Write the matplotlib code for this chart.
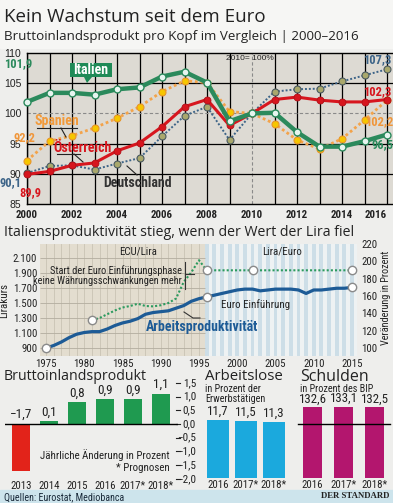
import matplotlib
matplotlib.use("Agg")
import matplotlib.pyplot as plt
from matplotlib import font_manager as fm
from matplotlib.patches import Polygon, Rectangle
from matplotlib.lines import Line2D
import numpy as np

W, H = 393, 503
plt.rcParams['font.family'] = ['Liberation Sans', 'DejaVu Sans']

# pick a condensed font if one is installed
_fl = fm.fontManager.ttflist
_names = {f.name for f in _fl}
NARROW_FAM, NARROW_STRETCH = None, 'normal'
for cand in ['Liberation Sans Narrow', 'Roboto Condensed', 'Noto Sans Condensed',
             'Noto Sans SemiCondensed', 'Open Sans Condensed', 'DejaVu Sans Condensed',
             'Arial Narrow']:
    if cand in _names:
        NARROW_FAM = cand
        break
if NARROW_FAM is None:
    def _is_cond(f):
        s = f.stretch
        if isinstance(s, (int, float)):
            return s < 500
        return 'condensed' in str(s)
    for fam in ['Noto Sans', 'DejaVu Sans', 'Roboto', 'Open Sans']:
        if any(f.name == fam and _is_cond(f) for f in _fl):
            NARROW_FAM, NARROW_STRETCH = fam, 'condensed'
            break
if NARROW_FAM is None:
    NARROW_FAM = 'Liberation Sans'
NK = dict(family=[NARROW_FAM, 'DejaVu Sans'], fontstretch=NARROW_STRETCH)
SMALLER = 0 if NARROW_FAM != 'Liberation Sans' else -0.8

# ---------------- data ----------------
years = list(range(2000, 2017))
italien = [101.9, 103.4, 103.4, 103.1, 104.0, 104.3, 106.1, 106.9, 105.1, 98.7,
           100.0, 100.1, 96.9, 94.5, 94.5, 95.4, 96.5]
spanien = [92.2, 95.4, 96.3, 97.6, 99.2, 101.1, 103.6, 105.4, 105.1, 100.3,
           100.0, 98.3, 95.6, 94.1, 95.8, 98.9, 102.2]
oesterreich = [89.9, 90.4, 91.4, 91.8, 93.8, 95.1, 97.8, 101.1, 102.3, 98.0,
               100.0, 102.3, 102.7, 102.2, 101.9, 101.9, 102.3]
deutschland = [90.1, 91.3, 91.4, 90.7, 91.7, 92.6, 96.2, 99.6, 101.1, 95.6,
               100.0, 103.6, 104.0, 104.1, 105.3, 106.3, 107.3]

lira_years = [1981, 1982, 1983, 1984, 1985, 1986, 1987, 1988, 1989, 1990, 1991,
              1992, 1993, 1994, 1995, 1996, 2002, 2015]
lira_vals = [1270, 1300, 1350, 1400, 1440, 1460, 1490, 1460, 1455, 1470, 1500,
             1560, 1780, 1910, 2070, 1936, 1936, 1936]
lira_marker_years = [1981, 1996, 2002, 2015]

prod_years = list(range(1975, 2016))
prod_vals = [100, 103, 107, 112, 116, 118, 119, 119, 122, 126, 129, 131, 134, 139,
             141, 142, 143, 146, 149, 154, 157, 159, 161, 163, 165, 167, 168, 168,
             166, 167, 168, 168, 168, 167, 163, 167, 167, 168, 169, 169, 170]
prod_marker_years = [1975, 1996, 2015]

bip_labels = ['2013', '2014', '2015', '2016', '2017*', '2018*']
bip_vals = [-1.7, 0.1, 0.8, 0.9, 0.9, 1.1]

al_labels = ['2016', '2017*', '2018*']
al_vals = [11.7, 11.5, 11.3]

sch_labels = ['2016', '2017*', '2018*']
sch_vals = [132.6, 133.1, 132.5]

# ---------------- helpers ----------------
fig = plt.figure(figsize=(W / 100, H / 100), dpi=100)
fig.patch.set_facecolor('#eeeeec')


def ax_px(x0, y0, x1, y1):
    return fig.add_axes([x0 / W, 1 - y1 / H, (x1 - x0) / W, (y1 - y0) / H])


def ftext(x, y, s, **kw):
    kw.setdefault('va', 'center')
    return fig.text(x / W, 1 - y / H, s, **kw)


def fline(xs, ys, **kw):
    fig.add_artist(Line2D([x / W for x in xs], [1 - y / H for y in ys], **kw))


def de(v, dec=1):
    s = f"{abs(v):.{dec}f}".replace('.', ',')
    return ('−' if v < 0 else '') + s


def fs(x):
    return x + SMALLER


LIGHT = ['Open Sans', 'DejaVu Sans']

# header
fig.add_artist(Rectangle((0, 1 - 48 / H), 1, 48 / H, transform=fig.transFigure,
                         color='#f6f6f4', zorder=0))
ftext(4, 17, 'Kein Wachstum seit dem Euro', fontsize=13.5, color='#222222', family=LIGHT)
ftext(4, 37, 'Bruttoinlandsprodukt pro Kopf im Vergleich | 2000–2016', fontsize=9.6,
      color='#222222', family=LIGHT)

# ---------------- top chart ----------------
ax = ax_px(27, 53, 393, 204)
ax.set_facecolor('#dddad3')
ax.set_xlim(2000, 2000 + (393 - 27) / 22.5)
ax.set_ylim(85, 110)
for y in years:
    if y == 2010:
        ax.axvline(y, color='#8a8a8a', lw=0.8, ls=(0, (3, 2)), zorder=1)
    else:
        ax.axvline(y, color='black', lw=0.9, zorder=1)
for yv in [90, 95, 105]:
    ax.axhline(yv, color='black', lw=0.9, zorder=1)
ax.axhline(100, color='#8a8a8a', lw=0.8, ls=(0, (3, 2)), zorder=1)
for s in ['top', 'left', 'bottom']:
    ax.spines[s].set_color('black')
    ax.spines[s].set_linewidth(1)
ax.spines['right'].set_visible(False)
ax.set_yticks([85, 90, 95, 100, 105, 110])
ax.set_yticklabels(['85', '90', '95', '100', '105', '110'], fontsize=7.5, color='#222')
ax.set_xticks(list(range(2000, 2017, 2)))
ax.set_xticklabels([str(y) for y in range(2000, 2017, 2)], fontsize=fs(7.8),
                   fontweight='bold', color='#222', **NK)
ax.get_xticklabels()[-1].set_ha('right')
ax.get_xticklabels()[-1].set_x(2016.2)
ax.tick_params(length=0, pad=4)

ax.plot(years, deutschland, color='#3d6488', lw=1.4, ls=(0, (1, 1)), marker='o', ms=5,
        mfc='#a9a86c', mec='#4a5a60', mew=0.8, zorder=3, clip_on=False)
ax.plot(years, spanien, color='#f3a34a', lw=2.0, ls=(0, (1, 1)), marker='o', ms=5,
        mfc='#f6c600', mec='#e8952a', mew=0.8, zorder=4, clip_on=False)
ax.plot(years, oesterreich, color='#d7161e', lw=2.2, marker='o', ms=5,
        mfc='#d7161e', mec='#b01018', mew=0.6, zorder=5, clip_on=False)
ax.plot(years, italien, color='#2b8a5c', lw=3.2, marker='o', ms=5,
        mfc='#e6f5ef', mec='#2b8a5c', mew=1.0, zorder=6, clip_on=False)

ftext(250, 59, '2010= 100%', fontsize=6, color='#222', ha='center')
# end-point labels
nb = dict(fontweight='bold', fontsize=fs(9), **NK)
ftext(4, 64, de(italien[0]), color='#2b8a5c', ha='left', **nb)
ftext(14, 138, de(spanien[0]), color='#f0963a', ha='left', **nb)
ftext(0, 183, de(deutschland[0]), color='#3d6488', ha='left', **nb)
ftext(19, 193, de(oesterreich[0]), color='#d7161e', ha='left', **nb)
ftext(391, 60, de(deutschland[-1]), color='#3d6488', ha='right', **nb)
ftext(391, 92, de(oesterreich[-1]), color='#d7161e', ha='right', **nb)
ftext(393, 122, de(spanien[-1]), color='#f0963a', ha='right', **nb)
ftext(393, 145, de(italien[-1]), color='#2b8a5c', ha='right', **nb)

# series labels
box = Polygon([(70 / W, 1 - 63 / H), (112 / W, 1 - 63 / H), (112 / W, 1 - 77 / H),
               (92 / W, 1 - 77 / H), (87 / W, 1 - 83 / H), (84 / W, 1 - 77 / H),
               (70 / W, 1 - 77 / H)], closed=True, transform=fig.transFigure,
              facecolor='#1f8a57', edgecolor='none', zorder=7)
fig.add_artist(box)
lb = dict(fontweight='bold', fontsize=fs(10), **NK)
ftext(91, 70, 'Italien', color='white', ha='center', zorder=8, **lb)
ftext(57, 121, 'Spanien', color='#f29a3a', ha='center', **lb)
fline([37, 77], [128, 128], color='#222', lw=0.8)
fline([61, 66], [128, 137], color='#222', lw=0.8)
ftext(82, 148, 'Österreich', color='#d7161e', ha='center', **lb)
fline([57, 80], [154, 154], color='#222', lw=0.8)
fline([74, 83], [154, 162], color='#222', lw=0.8)
ftext(138, 183, 'Deutschland', color='#333333', ha='center', **lb)
fline([127, 137], [166, 175], color='#222', lw=0.8)

# ---------------- middle chart ----------------
ftext(4, 233, 'Italiensproduktivität stieg, wenn der Wert der Lira fiel',
      fontsize=10.2, color='#222', family=LIGHT)
px_per_year = 7.65
x0_year = 1975 - (46 - 40) / px_per_year
x1_year = 1975 + (357 - 46) / px_per_year
axm = ax_px(40, 244, 357, 356)
axm.set_xlim(x0_year, x1_year)
axm.set_ylim(900 - (356 - 348) / 0.075, 900 + (348 - 244) / 0.075)
split = 1995.8
axm.axvspan(x0_year, split, color='#e3ddcf', zorder=0, lw=0)
axm.axvspan(split, x1_year, color='#eef2f3', zorder=0, lw=0)
for yr in range(1975, 1996):
    axm.axvline(yr, color='#c9c3b4', lw=0.6, zorder=0.5)
for yr in range(1996, 2016):
    axm.axvspan(yr - 0.25, yr + 0.25, color='#cddee7', zorder=0.5, lw=0)
lticks = list(range(900, 2101, 200))
axm.hlines(lticks, x0_year, split, color='#b3ad9f', lw=0.6, zorder=0.6)
axm.set_yticks(lticks)
axm.set_yticklabels([f"{t:,}".replace(',', '.') for t in lticks], fontsize=fs(7.8),
                    color='#222', **NK)
axm.set_xticks(list(range(1975, 2016, 5)))
axm.set_xticklabels([str(y) for y in range(1975, 2016, 5)], fontsize=fs(7.8),
                    color='#222', **NK)
axm.tick_params(length=0, pad=2)
for s in axm.spines.values():
    s.set_visible(False)
axm.set_ylabel('Lirakurs', fontsize=fs(7.8), labelpad=3, color='#222', **NK)

axm.plot(lira_years, lira_vals, color='#2b9a5e', lw=1.5, ls=(0, (1, 1)), zorder=3)
lm = [lira_vals[lira_years.index(y)] for y in lira_marker_years]
axm.plot(lira_marker_years, lm, ls='none', marker='o', ms=6, mfc='white',
         mec='#8a8a8a', mew=1, zorder=5, clip_on=False)

axr = axm.twinx()
axr.set_ylim(100 - (356 - 348) / 0.88, 100 + (348 - 244) / 0.88)
axr.set_yticks(list(range(100, 221, 20)))
axr.set_yticklabels([str(t) for t in range(100, 221, 20)], fontsize=fs(7.8),
                    color='#222', **NK)
axr.tick_params(length=0, pad=3)
for s in axr.spines.values():
    s.set_visible(False)
axr.plot(prod_years, prod_vals, color='#1d5b96', lw=2.3, zorder=4)
pm = [prod_vals[prod_years.index(y)] for y in prod_marker_years]
axr.plot(prod_marker_years, pm, ls='none', marker='o', ms=6, mfc='white',
         mec='#8a8a8a', mew=1, zorder=5, clip_on=False)
ftext(386, 298, 'Veränderung in Prozent', rotation=90, ha='center', fontsize=fs(7.4),
      color='#222', **NK)

ftext(138, 251, 'ECU/Lira', ha='center', fontsize=fs(7.8), color='#222', **NK)
ftext(282, 251, 'Lira/Euro', ha='center', fontsize=fs(7.8), color='#222', **NK)
ftext(182, 271, 'Start der Euro Einführungsphase', ha='right', fontsize=fs(7.5),
      color='#222', **NK)
ftext(182, 281, 'keine Währungsschwankungen mehr', ha='right', fontsize=fs(7.5),
      color='#222', **NK)
fline([185, 185], [262, 289], color='#333', lw=0.8)
fline([185, 194], [274, 274], color='#333', lw=0.8)
ftext(256, 305, 'Euro Einführung', ha='center', fontsize=fs(7.8), color='#222', **NK)
ftext(202, 327, 'Arbeitsproduktivität', ha='center', fontsize=fs(10),
      fontweight='bold', color='#1d5b96', **NK)
fline([184, 193, 200], [312, 318, 318], color='#333', lw=0.8)

# ---------------- bottom panels ----------------
ftext(4, 377, 'Bruttoinlandsprodukt', fontsize=10.2, color='#222', family=LIGHT)
ftext(205, 377, 'Arbeitslose', fontsize=10.8, color='#222', family=LIGHT)
ftext(300, 377, 'Schulden', fontsize=11.5, color='#222', family=LIGHT)
ftext(205, 389, 'in Prozent der', fontsize=fs(7.3), color='#222', **NK)
ftext(205, 399, 'Erwerbstätigen', fontsize=fs(7.3), color='#222', **NK)
ftext(300, 389, 'in Prozent des BIP', fontsize=fs(7.3), color='#222', **NK)

# panel 1
scale1 = 27.4
axb = ax_px(5, 380, 178, 480)
axb.set_xlim((5 - 21) / 28, (178 - 21) / 28)
axb.set_ylim(-(480 - 424) / scale1, (424 - 380) / scale1)
xb = np.arange(len(bip_vals))
cols = ['#e2231a' if v < 0 else '#1f9a50' for v in bip_vals]
axb.bar(xb, bip_vals, width=0.66, color=cols, zorder=2)
axb.axhline(0, color='black', lw=1, zorder=3)
for x, v in zip(xb, bip_vals):
    axb.annotate(de(v), (x, max(v, 0)), xytext=(0, 2), textcoords='offset points',
                 ha='center', va='bottom', fontsize=fs(9.5), color='#222', **NK)
axb.set_xticks(xb)
axb.set_xticklabels(bip_labels, fontsize=fs(7.8), color='#222', **NK)
axb.tick_params(axis='x', length=0, pad=1)
axb.set_yticks([])
for s in axb.spines.values():
    s.set_visible(False)
axb.patch.set_alpha(0)
for t in [1.5, 1.0, 0.5, 0.0, -0.5, -1.0, -1.5, -2.0]:
    axb.annotate(de(t), (1, t), xycoords=('axes fraction', 'data'), xytext=(18, 0),
                 textcoords='offset pixels', ha='right', va='center', fontsize=fs(8),
                 color='#222', **NK)
    axb.plot([0.99, 1.01], [t, t], transform=axb.get_yaxis_transform(), color='#222',
             lw=0.8, clip_on=False)
ftext(170, 455, 'Jährliche Änderung in Prozent', ha='right', fontsize=fs(7.8),
      color='#222', **NK)
ftext(170, 468, '* Prognosen', ha='right', fontsize=fs(7.8), color='#222', **NK)

# panel 2
axa = ax_px(200, 380, 292, 478)
axa.set_xlim((200 - 218) / 28, (292 - 218) / 28)
axa.set_ylim(0, (478 - 380) / 5.0)
xa = np.arange(len(al_vals))
axa.bar(xa, al_vals, width=0.82, color='#1ba9dd', zorder=2)
for x, v in zip(xa, al_vals):
    axa.annotate(de(v), (x, v), xytext=(0, 1.5), textcoords='offset points',
                 ha='center', va='bottom', fontsize=fs(9.3), color='#222', **NK)
axa.set_xticks(xa)
axa.set_xticklabels(al_labels, fontsize=fs(7.8), color='#222', **NK)
axa.tick_params(axis='x', length=0, pad=1.5)
axa.set_yticks([])
for s in axa.spines.values():
    s.set_visible(False)
axa.patch.set_alpha(0)

# panel 3
fline([298, 390], [424, 424], color='black', lw=1, zorder=1)
axs = ax_px(298, 380, 390, 478)
axs.set_xlim((298 - 312.5) / 31, (390 - 312.5) / 31)
axs.set_ylim(0, (478 - 380) / 0.537)
xs = np.arange(len(sch_vals))
axs.bar(xs, sch_vals, width=0.62, color='#b3166e', zorder=2)
for x, v in zip(xs, sch_vals):
    axs.annotate(de(v), (x, v), xytext=(0, 1), textcoords='offset points',
                 ha='center', va='bottom', fontsize=fs(9.3), color='#222', **NK)
axs.set_xticks(xs)
axs.set_xticklabels(sch_labels, fontsize=fs(7.8), color='#222', **NK)
axs.tick_params(axis='x', length=0, pad=1.5)
axs.set_yticks([])
for s in axs.spines.values():
    s.set_visible(False)
axs.patch.set_alpha(0)

# footer
fig.add_artist(Rectangle((0, 0), 1, 13 / H, transform=fig.transFigure,
                         color='#cde4ec', zorder=0))
ftext(4, 497, 'Quellen: Eurostat, Mediobanca', fontsize=fs(7.2), color='#1a2a3a', **NK)
ftext(389, 496, 'DER STANDARD', ha='right', fontsize=6.3, fontweight='bold',
      family=['Liberation Serif', 'DejaVu Serif'], color='#222')

fig.savefig('out.png', dpi=100, facecolor=fig.get_facecolor())
